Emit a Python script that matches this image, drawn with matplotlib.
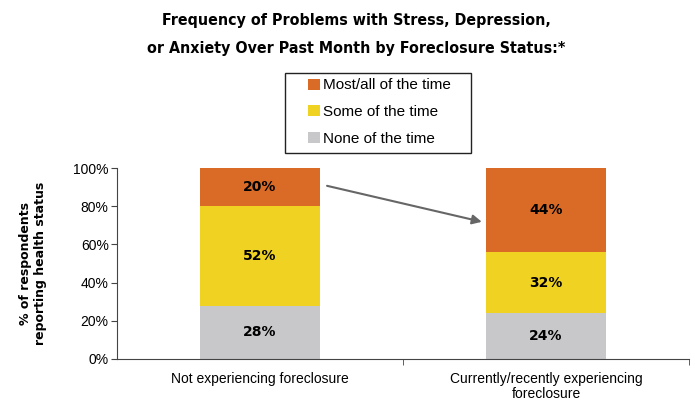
import numpy as np
import matplotlib.pyplot as plt
from matplotlib.patches import Rectangle

categories = ["Not experiencing foreclosure", "Currently/recently experiencing\nforeclosure"]
series_names = ["None of the time", "Some of the time", "Most/all of the time"]
none_vals = [28, 24]
some_vals = [52, 32]
most_vals = [20, 44]
colors = ["#c8c8ca", "#f0d223", "#d96b27"]

fig = plt.figure(figsize=(6.95, 4.0), dpi=100)
ax = fig.add_axes([117 / 695, 1 - 359 / 400, 572 / 695, 191 / 400])

x = np.arange(len(categories))
width = 0.42
bottom = np.zeros(len(categories))
handles = []
for name, vals, col in zip(series_names, [none_vals, some_vals, most_vals], colors):
    vals = np.array(vals, dtype=float)
    bars = ax.bar(x, vals, width, bottom=bottom, color=col, label=name)
    for xi, b, v in zip(x, bottom, vals):
        ax.text(xi, b + v / 2, f"{int(v)}%", ha="center", va="center",
                fontsize=10, fontweight="bold", family="DejaVu Sans")
    handles.append(bars)
    bottom += vals

ax.set_xlim(-0.5, 1.5)
ax.set_ylim(0, 100)
ax.set_yticks(np.arange(0, 101, 20))
ax.set_yticklabels([f"{v}%" for v in range(0, 101, 20)], family="Liberation Sans", fontsize=10)
ax.set_xticks(x)
ax.set_xticklabels(categories, family="Liberation Sans", fontsize=10, linespacing=1.1)
ax.tick_params(axis="x", which="major", length=0, pad=9)
ax.set_xticks([0.5, 1.5], minor=True)
ax.tick_params(axis="x", which="minor", length=4, color="#444444")
ax.tick_params(axis="y", length=4, color="#444444", pad=2)
for s in ["top", "right"]:
    ax.spines[s].set_visible(False)
for s in ["left", "bottom"]:
    ax.spines[s].set_color("#444444")

ax.set_ylabel("% of respondents\nreporting health status", fontsize=9, fontweight="bold",
              family="DejaVu Sans", linespacing=1.15, labelpad=19)

# arrow from first bar's top segment to second bar's top segment
ax.annotate("", xy=(1 - width / 2 - 0.005, 71.5), xytext=(width / 2 + 0.015, 91),
            arrowprops=dict(arrowstyle="-|>", color="#666666", lw=1.5, mutation_scale=14))

title_font = dict(ha="center", va="center", fontsize=11.4, fontweight="bold",
                  family="DejaVu Sans", fontstretch="condensed")
fig.text(0.513, 1 - 20 / 400, "Frequency of Problems with Stress, Depression,", **title_font)
fig.text(0.513, 1 - 48 / 400, "or Anxiety Over Past Month by Foreclosure Status:*", **title_font)

# legend box drawn separately so the inner padding matches the reference
fig.patches.append(Rectangle((285 / 695, 1 - 153 / 400), 186 / 695, 80 / 400,
                             transform=fig.transFigure, fill=False,
                             edgecolor="#222222", linewidth=1.0))
leg = fig.legend(handles[::-1], series_names[::-1], loc="center left",
                 bbox_to_anchor=(308 / 695, 1 - 112 / 400),
                 prop={"family": "Liberation Sans", "size": 11},
                 handlelength=0.78, handleheight=0.72, handletextpad=0.2,
                 labelspacing=0.82, borderpad=0, borderaxespad=0, frameon=False)

fig.savefig("out.png", dpi=100)
